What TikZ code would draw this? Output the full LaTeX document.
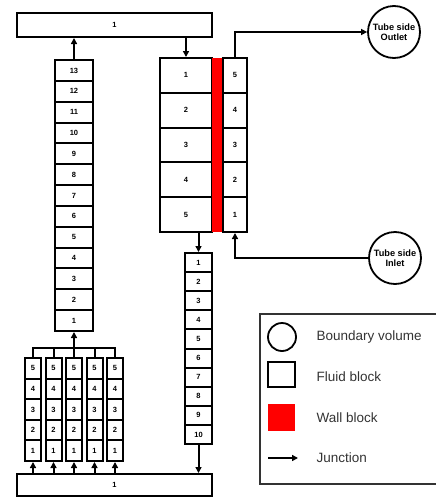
\documentclass[tikz,border=0pt]{standalone}
\usepackage{fontspec}
\setmainfont{Liberation Sans}
\usetikzlibrary{arrows.meta,calc}
\begin{document}
\begin{tikzpicture}[x=1pt,y=-1pt,
  cell/.style={draw, line width=2pt, inner sep=0pt, font=\bfseries\fontsize{7.5}{8}\selectfont},
  junc/.style={line width=2pt, -{Triangle[length=6pt,width=6pt]}},
  bound/.style={draw, circle, line width=1.8pt, inner sep=0pt, minimum size=52pt, align=center, font=\bfseries\fontsize{9.2}{10}\selectfont},
  legtext/.style={anchor=west, font=\fontsize{13.5}{15}\selectfont, text=black!80}
]
\useasboundingbox (0,0) rectangle (436,498);

% top and bottom volumes
\node[cell, minimum width=195pt, minimum height=24pt] (T1) at (114.5,25) {1};
\node[cell, minimum width=195pt, minimum height=22pt] (B1) at (114.5,485) {1};

% left riser column
\foreach \i in {1,...,13}
  \node[cell, minimum width=38pt, minimum height=20.85pt] (L\i) at (74,{331-(\i-0.5)*20.846}) {\i};

% five small parallel columns
\foreach \j/\x in {1/33,2/53.5,3/74,4/94.5,5/115}
  \foreach \i in {1,...,5}
    \node[cell, minimum width=16pt, minimum height=20.6pt] (C\j-\i) at (\x,{461-(\i-0.5)*20.6}) {\i};

% main heat exchanger block
\foreach \i in {1,...,5}
  \node[cell, minimum width=52pt, minimum height=34.8pt] (M\i) at (186,{58+(\i-0.5)*34.8}) {\i};
\node[fill=red, inner sep=0pt, minimum width=10pt, minimum height=174pt] (W) at (217,145) {};
\foreach \i in {1,...,5}
  \node[cell, minimum width=24pt, minimum height=34.8pt] (R\i) at (235,{232-(\i-0.5)*34.8}) {\i};

% lower down-comer column
\foreach \i in {1,...,10}
  \node[cell, minimum width=27pt, minimum height=19.1pt] (D\i) at (198.5,{253+(\i-0.5)*19.1}) {\i};

% boundary volumes
\node[bound] (O) at (394,32) {Tube side\\Outlet};
\node[bound] (I) at (395,258) {Tube side\\Inlet};

% junctions
\draw[junc] (L13.north) -- (T1.south -| L13.north);
\draw[junc] (T1.south -| M1.north) -- (M1.north);
\draw[junc] (M5.south -| D1.north) -- (D1.north);
\draw[junc] (D10.south) -- (B1.north -| D10.south);
\draw[junc] (R5.north) |- (O.west);
\draw[junc] (I.west) -| (R1.south);
\foreach \j in {1,...,5}
  \draw[junc] (B1.north -| C\j-1.south) -- (C\j-1.south);
\coordinate (mL) at (33,348);
\coordinate (mR) at (115,348);
\draw[line width=2pt, line cap=rect] (mL) -- (mR);
\foreach \j in {1,2,4,5}
  \draw[line width=2pt] (C\j-5.north) -- (C\j-5.north |- mL);
\draw[junc] (C3-5.north) -- (L1.south);

% legend
\draw[line width=1.4pt, draw=black!80] (260,314) rectangle (440,484);
\node[draw, circle, line width=1.8pt, minimum size=28pt, inner sep=0pt] (lc) at (282,337) {};
\node[draw, line width=1.8pt, minimum width=27pt, minimum height=25pt, inner sep=0pt] (lf) at (281.5,374.5) {};
\node[fill=red, minimum width=27pt, minimum height=27pt, inner sep=0pt] (lw) at (281.5,417.5) {};
\coordinate (ja) at (268,458);
\coordinate (jb) at (298,458);
\draw[junc] (ja) -- (jb);
\node[legtext] (t1) at (313,337) {Boundary volume};
\node[legtext] (t2) at (313,377) {Fluid block};
\node[legtext] (t3) at (313,418) {Wall block};
\node[legtext] (t4) at (313,458) {Junction};
\end{tikzpicture}
\end{document}
